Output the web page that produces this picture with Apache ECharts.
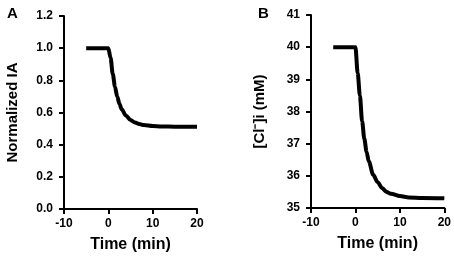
<!DOCTYPE html>
<html>
<head>
<meta charset="utf-8">
<script src="https://cdn.jsdelivr.net/npm/echarts@6/dist/echarts.min.js"></script>
<style>
html,body{margin:0;padding:0;background:#fff}
#main{width:454px;height:259px}
</style>
</head>
<body>
<div id="main"></div>
<script>
// panel A: normalized IA vs time
var timeA=[-5,0,0.5,1,1.5,2,2.5,3,4,5,6,7,8,10,12,15,20]
var valA=[1.0,1.0,0.94,0.84,0.76,0.70,0.655,0.62,0.58,0.553,0.538,0.528,0.522,0.516,0.513,0.512,0.512]
// panel B: [Cl-]i vs time
var timeB=[-5,0,0.5,1,1.5,2,2.5,3,4,5,6,7,8,10,12,15,20]
var valB=[40,40,39.2,38.5,37.7,37.15,36.75,36.45,36.03,35.8,35.62,35.5,35.44,35.37,35.33,35.31,35.3]
var xTicks=[-10,20,10]
var yTicksA=[0,1.2,0.2]
var yTicksB=[35,41,1]

function pairs(xs,ys){
    var out=[]
    for(var i=0;i<xs.length;i++){
        out.push([xs[i],ys[i]])
    }
    return out
}

var font="Liberation Sans"
var axisLine={onZero:false,lineStyle:{color:'#000',width:2}}
var axisTick={inside:false,length:5,lineStyle:{color:'#000',width:2}}

function xAxis(idx){
    return {
        type:'value',gridIndex:idx,
        min:xTicks[0],max:xTicks[1],interval:xTicks[2],
        axisLine:axisLine,axisTick:axisTick,splitLine:{show:false},
        axisLabel:{color:'#000',fontFamily:font,fontWeight:'bold',fontSize:12,margin:9},
        name:'Time (min)',nameLocation:'middle',nameGap:28,
        nameTextStyle:{color:'#000',fontFamily:font,fontWeight:'bold',fontSize:16,verticalAlign:'top'}
    }
}
function yAxis(idx,t,name,fmt,gap){
    return {
        type:'value',gridIndex:idx,
        min:t[0],max:t[1],interval:t[2],
        axisLine:axisLine,axisTick:axisTick,splitLine:{show:false},
        axisLabel:{color:'#000',fontFamily:font,fontWeight:'bold',fontSize:12,margin:11,formatter:fmt},
        name:name,nameLocation:'middle',nameGap:gap,nameRotate:90,
        nameTextStyle:{color:'#000',fontFamily:font,fontWeight:'bold',fontSize:15}
    }
}

var myChart=echarts.init(document.getElementById('main'))
var option={
    animation:false,
    title:[
        {text:'A',left:2,top:1,textStyle:{fontFamily:font,fontWeight:'bold',fontSize:15,color:'#000'}},
        {text:'B',left:253,top:1,textStyle:{fontFamily:font,fontWeight:'bold',fontSize:15,color:'#000'}}
    ],
    grid:[
        {left:64,right:257,top:16,bottom:50},
        {left:311,right:9,top:15,bottom:51}
    ],
    xAxis:[xAxis(0),xAxis(1)],
    yAxis:[
        yAxis(0,yTicksA,'Normalized IA',function(v){return v.toFixed(1)},44),
        yAxis(1,yTicksB,'[Cl\u207B]i (mM)',function(v){return v},44)
    ],
    series:[
        {type:'line',xAxisIndex:0,yAxisIndex:0,data:pairs(timeA,valA),showSymbol:false,
         smooth:0.3,smoothMonotone:'x',lineStyle:{color:'#000',width:4}},
        {type:'line',xAxisIndex:1,yAxisIndex:1,data:pairs(timeB,valB),showSymbol:false,
         smooth:0.3,smoothMonotone:'x',lineStyle:{color:'#000',width:4}}
    ]
}
myChart.setOption(option)
</script>
</body>
</html>
